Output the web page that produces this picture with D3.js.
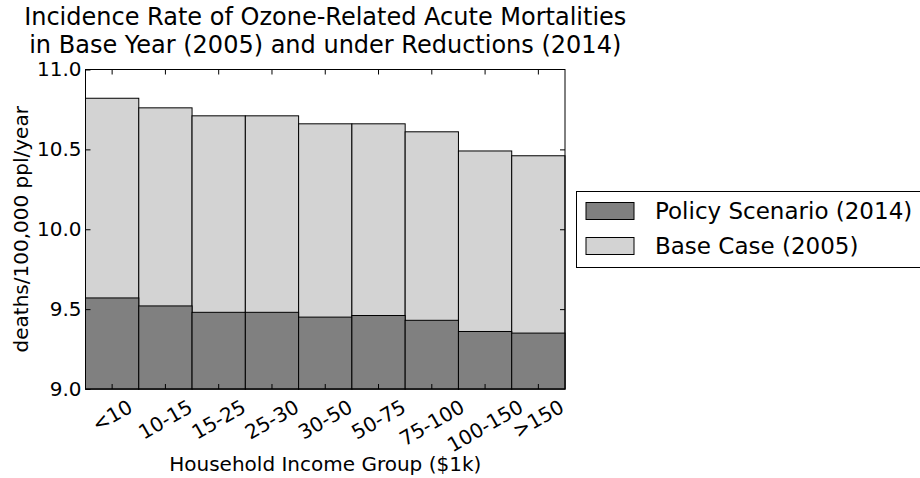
<!DOCTYPE html>
<html>
<head>
<meta charset="utf-8">
<script src="https://cdn.jsdelivr.net/npm/d3@7"></script>
<style>
  body { margin: 0; background: #fff; }
  svg { display: block; font-family: "DejaVu Sans", sans-serif; }
</style>
</head>
<body>
<script>
const incomeGroups = ['<10', '10-15', '15-25', '25-30', '30-50', '50-75', '75-100', '100-150', '>150']
const baseCase2005 = [10.82, 10.76, 10.71, 10.71, 10.66, 10.66, 10.61, 10.49, 10.46]
const policy2014 = [9.57, 9.52, 9.48, 9.48, 9.45, 9.46, 9.43, 9.36, 9.35]
const yTicks = [9.0, 9.5, 10.0, 10.5, 11.0]
const seriesNames = ['Policy Scenario (2014)', 'Base Case (2005)']
const seriesColors = ['#808080', '#d3d3d3']

const width = 920, height = 478
const plot = { left: 85.5, right: 565, top: 69.5, bottom: 389 }

const svg = d3.select('body')
  .append('svg')
  .attr('width', width)
  .attr('height', height)

const x = d3.scaleBand()
  .domain(incomeGroups)
  .range([plot.left, plot.right])
  .padding(0)

const y = d3.scaleLinear()
  .domain([9, 11])
  .range([plot.bottom, plot.top])

// bars: base case first, policy scenario drawn over it
const series = [baseCase2005, policy2014]
const fills = [seriesColors[1], seriesColors[0]]
series.forEach((vals, s) => {
  svg.append('g')
    .selectAll('rect')
    .data(vals)
    .enter()
    .append('rect')
    .attr('x', (d, i) => x(incomeGroups[i]))
    .attr('y', d => y(d))
    .attr('width', x.bandwidth())
    .attr('height', d => y(9) - y(d))
    .attr('fill', fills[s])
    .attr('stroke', '#000')
    .attr('stroke-width', 1)
})

// axes, ticks point inward
const yLeft = d3.axisLeft(y).tickValues(yTicks).tickFormat(d3.format('.1f'))
  .tickSizeInner(-5).tickSizeOuter(0).tickPadding(4)
svg.append('g')
  .attr('transform', `translate(${plot.left},0)`)
  .call(yLeft)
  .call(g => g.select('.domain').remove())
  .call(g => g.selectAll('text').attr('font-size', 20).attr('font-family', 'DejaVu Sans').attr('fill', '#000'))

const yRight = d3.axisRight(y).tickValues(yTicks.slice(1, -1))
  .tickSizeInner(-5).tickSizeOuter(0).tickFormat('')
svg.append('g')
  .attr('transform', `translate(${plot.right},0)`)
  .call(yRight)
  .call(g => g.select('.domain').remove())

const xTop = d3.axisTop(x).tickSizeInner(-5).tickSizeOuter(0).tickFormat('')
svg.append('g')
  .attr('transform', `translate(0,${plot.top})`)
  .call(xTop)
  .call(g => g.select('.domain').remove())

const xBottom = d3.axisBottom(x).tickSizeInner(-5).tickSizeOuter(0).tickFormat('')
svg.append('g')
  .attr('transform', `translate(0,${plot.bottom})`)
  .call(xBottom)
  .call(g => g.select('.domain').remove())

// rotated category labels, centred under each tick
const labels = svg.append('g')
  .selectAll('text')
  .data(incomeGroups)
  .enter()
  .append('text')
  .attr('font-size', 20)
  .attr('text-anchor', 'middle')
  .attr('dy', '0.35em')
  .text(d => d)
labels.each(function (d) {
  const w = this.getComputedTextLength()
  const h = 23
  const half = (w / 2) * Math.sin(Math.PI / 6) + (h / 2) * Math.cos(Math.PI / 6)
  const cx = x(d) + x.bandwidth() / 2
  const cy = plot.bottom + 6 + half
  d3.select(this).attr('transform', `translate(${cx},${cy}) rotate(-30)`)
})

// frame
svg.append('rect')
  .attr('x', plot.left)
  .attr('y', plot.top)
  .attr('width', plot.right - plot.left)
  .attr('height', plot.bottom - plot.top)
  .attr('fill', 'none')
  .attr('stroke', '#000')
  .attr('stroke-width', 1)

// titles
svg.append('text')
  .attr('x', (plot.left + plot.right) / 2)
  .attr('y', 25)
  .attr('text-anchor', 'middle')
  .attr('font-size', 24)
  .text('Incidence Rate of Ozone-Related Acute Mortalities')
svg.append('text')
  .attr('x', (plot.left + plot.right) / 2)
  .attr('y', 52.5)
  .attr('text-anchor', 'middle')
  .attr('font-size', 24)
  .text(' in Base Year (2005) and under Reductions (2014)')

svg.append('text')
  .attr('x', (plot.left + plot.right) / 2)
  .attr('y', 471)
  .attr('text-anchor', 'middle')
  .attr('font-size', 20)
  .text('Household Income Group ($1k)')

svg.append('text')
  .attr('transform', `translate(28,${(plot.top + plot.bottom) / 2}) rotate(-90)`)
  .attr('text-anchor', 'middle')
  .attr('font-size', 20)
  .text('deaths/100,000 ppl/year')

// legend
const legend = svg.append('g').attr('id', 'legend')
legend.append('rect')
  .attr('x', 576.5)
  .attr('y', 191.5)
  .attr('width', 400)
  .attr('height', 76)
  .attr('fill', '#fff')
  .attr('stroke', '#000')
  .attr('stroke-width', 1)
seriesNames.forEach((name, i) => {
  legend.append('rect')
    .attr('x', 586)
    .attr('y', 202.5 + i * 35)
    .attr('width', 48)
    .attr('height', 17)
    .attr('fill', seriesColors[i])
    .attr('stroke', '#000')
    .attr('stroke-width', 1)
  legend.append('text')
    .attr('x', 655)
    .attr('y', 219 + i * 35)
    .attr('font-size', 23)
    .text(name)
})
</script>
</body>
</html>
